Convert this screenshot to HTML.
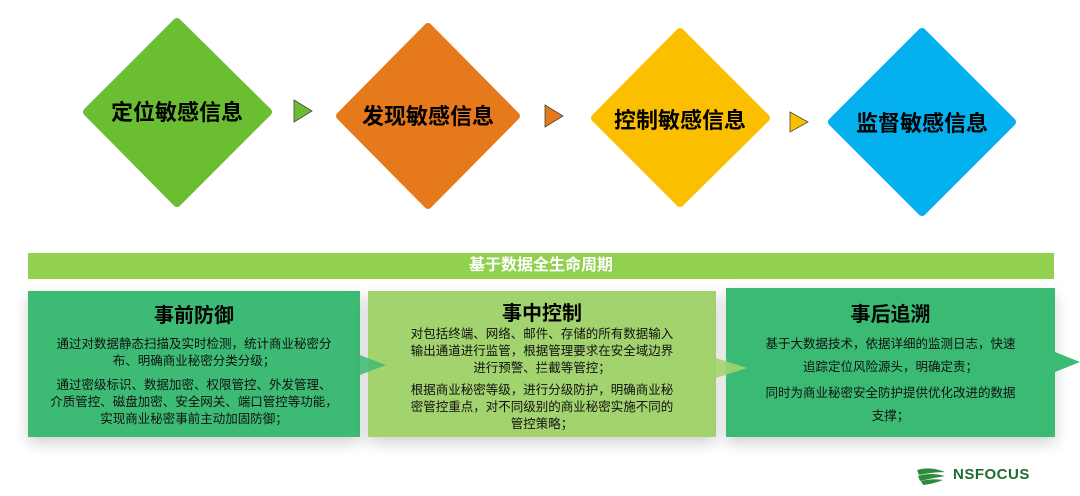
<!DOCTYPE html>
<html><head><meta charset="utf-8"><style>
body{margin:0;width:1080px;height:496px;background:#fff;position:relative;overflow:hidden;font-family:"Liberation Sans","Noto Sans CJK SC",sans-serif}
.box{position:absolute;top:291px;height:146px;box-shadow:0 6px 14px rgba(0,0,0,0.18);text-align:center;color:#111}
.box h3{margin:6px 0 2px;font-size:20px;font-weight:bold;color:#000}
.box p{margin:0 0 6px;font-size:12.5px;line-height:17px}
</style></head><body>
<svg width="1080" height="240" style="position:absolute;left:0;top:0">
<g stroke-linejoin="round">
<polygon points="177,22 268,112 177,203 87,112" fill="#6bbd31" stroke="#6bbd31" stroke-width="8"/>
<polygon points="428,27 516,116 428,205 340,116" fill="#e6791b" stroke="#e6791b" stroke-width="8"/>
<polygon points="680,32 766,118 680,203 595,118" fill="#fbbf00" stroke="#fbbf00" stroke-width="8"/>
<polygon points="922,32 1012,122 922,212 832,122" fill="#04b0ee" stroke="#04b0ee" stroke-width="8"/>
</g>
<polygon points="294,100 312,111 294,122" fill="#6bbd31" stroke="#444" stroke-width="0.8"/>
<polygon points="545,105 563,116 545,127" fill="#e6791b" stroke="#444" stroke-width="0.8"/>
<polygon points="790,112 808,122 790,132" fill="#fbbf00" stroke="#444" stroke-width="0.8"/>
<g font-family="Liberation Sans,Noto Sans CJK SC,sans-serif" font-weight="bold" font-size="22" text-anchor="middle" fill="#000">
<text x="177" y="120">定位敏感信息</text>
<text x="428" y="124">发现敏感信息</text>
<text x="680" y="128">控制敏感信息</text>
<text x="922" y="131">监督敏感信息</text>
</g>
</svg>
<div style="position:absolute;left:28px;top:253px;width:1026px;height:26px;background:#92d050;color:#fff;font-weight:bold;font-size:16px;line-height:26px;text-align:center">基于数据全生命周期</div>
<div class="box" style="left:28px;width:332px;background:#3dbb74"><h3 style="margin:8px 0 8px">事前防御</h3>
<p style="margin-bottom:7px">通过对数据静态扫描及实时检测，统计商业秘密分<br>布、明确商业秘密分类分级；</p>
<p>通过密级标识、数据加密、权限管控、外发管理、<br>介质管控、磁盘加密、安全网关、端口管控等功能，<br>实现商业秘密事前主动加固防御；</p></div>
<div class="box" style="left:368px;width:348px;background:#a3d36e"><h3 style="margin-bottom:0">事中控制</h3>
<p style="margin-bottom:5px">对包括终端、网络、邮件、存储的所有数据输入<br>输出通道进行监管，根据管理要求在安全域边界<br>进行预警、拦截等管控；</p>
<p>根据商业秘密等级，进行分级防护，明确商业秘<br>密管控重点，对不同级别的商业秘密实施不同的<br>管控策略；</p></div>
<div class="box" style="left:726px;top:288px;height:149px;width:329px;background:#3bba74"><h3 style="margin:10px 0 6px">事后追溯</h3>
<p style="line-height:23px;margin-bottom:3px">基于大数据技术，依据详细的监测日志，快速<br>追踪定位风险源头，明确定责；</p>
<p style="line-height:23px">同时为商业秘密安全防护提供优化改进的数据<br>支撑；</p></div>
<svg width="1080" height="496" style="position:absolute;left:0;top:0">
<polygon points="360,355 386,365 360,375" fill="#3dbb74" opacity="0.85"/>
<polygon points="716,358 747,368 716,378" fill="#a3d36e" opacity="0.9"/>
<polygon points="1055,352 1080,362 1055,372" fill="#3dbb74"/>
</svg>
<svg width="40" height="20" style="position:absolute;left:915px;top:466px">
<path d="M2,4 Q15,0 30,6 Q18,6 4,9Z M3,10 Q16,6 30,10 Q18,12 5,15Z M6,15 Q18,12 28,14 Q18,18 8,19Z" fill="#2e8b3e"/>
</svg>
<div style="position:absolute;left:953px;top:466px;font-weight:bold;font-size:15px;color:#1f6b35;letter-spacing:0.5px">NSFOCUS</div>
</body></html>
